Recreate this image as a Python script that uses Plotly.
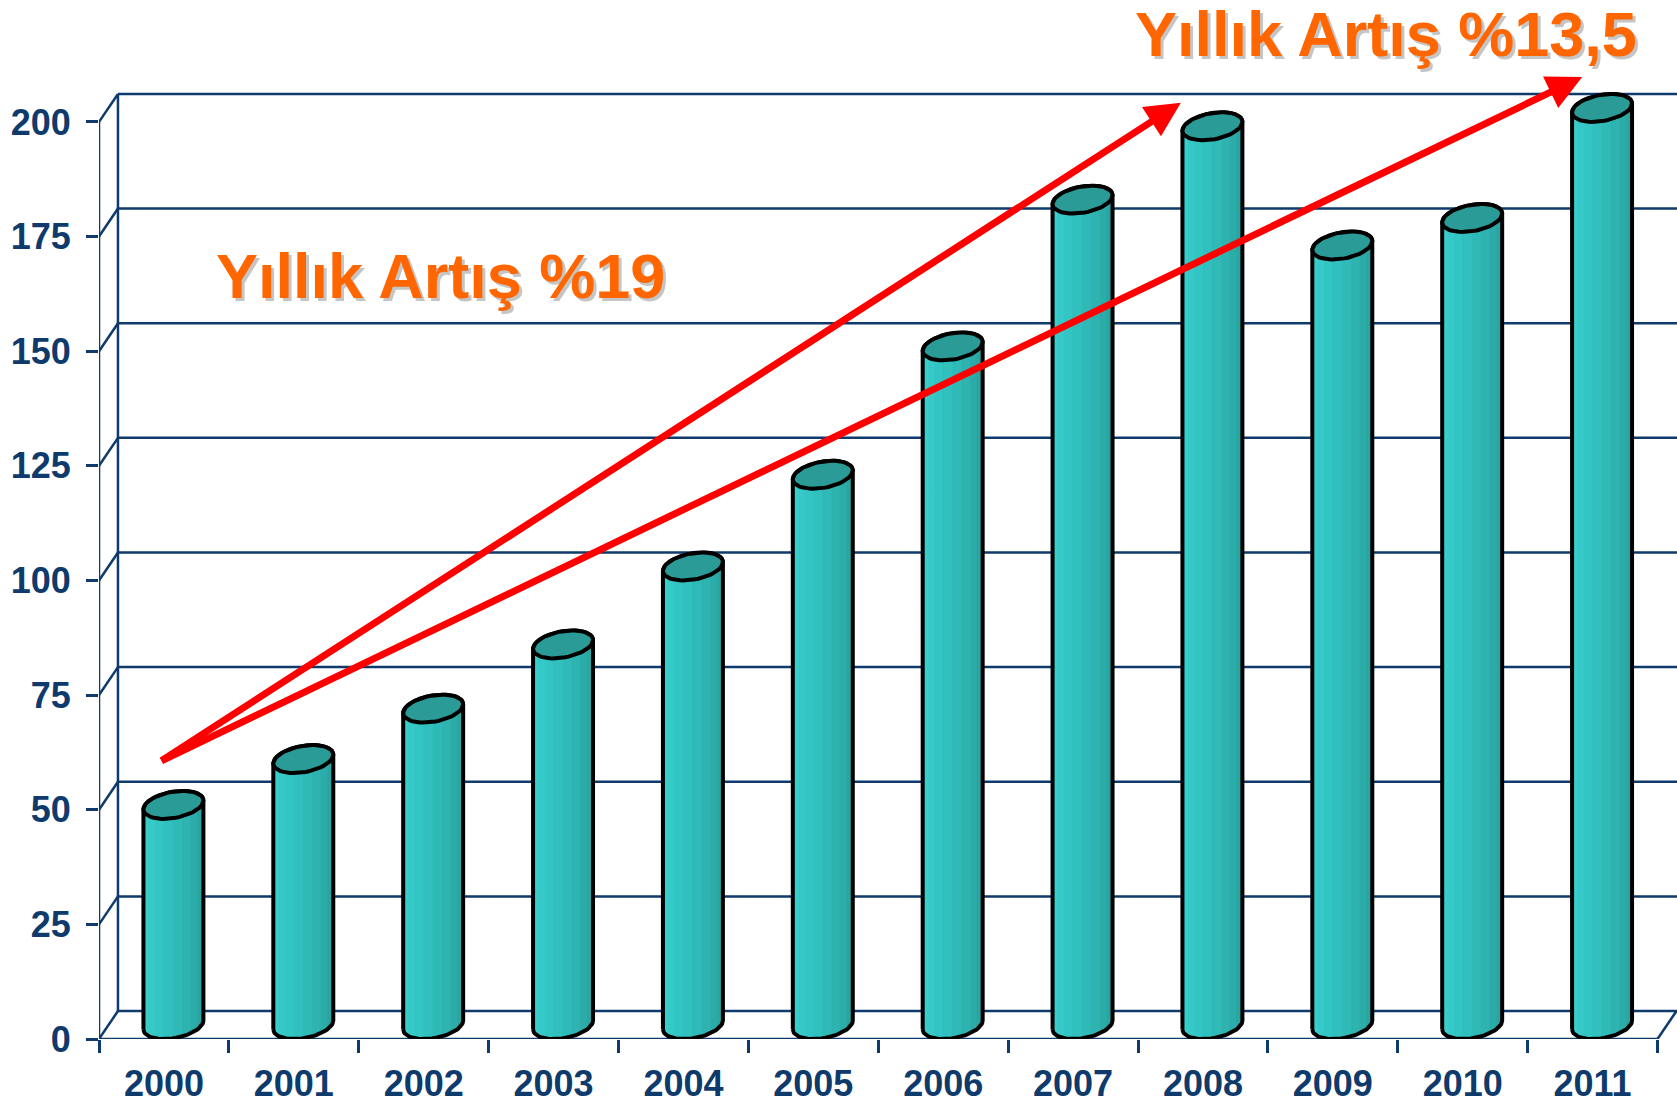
import numpy as np
import plotly.graph_objects as go

# ---------------- data ----------------
years = ["2000", "2001", "2002", "2003", "2004", "2005",
         "2006", "2007", "2008", "2009", "2010", "2011"]
values = [48, 58, 69, 83, 100, 120, 148, 180, 196, 170, 176, 200]
y_ticks = [0, 25, 50, 75, 100, 125, 150, 175, 200]
label_low = "Yıllık Artış %19"
label_high = "Yıllık Artış %13,5"

# ---------------- style / geometry ----------------
NAVY = "#0E3A6C"
ORANGE = "#FF6600"
FONT = "Liberation Sans, Arial, sans-serif"
DX, DY = 0.146, 6.1      # pseudo-3D depth offset (data units)
RX = 0.219               # cylinder half width (x units)
N = len(years)
X0, X1 = -0.5, N - 0.5
XMAX = X1 + DX + 0.004
YMAX = 213.5

fig = go.Figure()

# ---- cylinders ----
th0 = np.arctan2(DX / 2, RX)


def ell(cx, cy, th):
    return cx + RX * np.cos(th) + (DX / 2) * np.sin(th), cy + (DY / 2) * np.sin(th)


body_x, body_y = [], []
cap_x, cap_y = [], []
K = 10
strips = [([], []) for _ in range(K)]
for i, v in enumerate(values):
    cx = i + DX / 2
    cb = DY / 2
    ct = v + DY / 2
    tb = np.linspace(th0 + np.pi, th0 + 2 * np.pi, 40)
    tt = np.linspace(th0, th0 + np.pi, 40)
    bx, by = ell(cx, cb, tb)
    tx, ty = ell(cx, ct, tt)
    px = list(bx) + list(tx) + [bx[0]]
    py = list(by) + list(ty) + [by[0]]
    body_x += px + [None]
    body_y += py + [None]
    ta = np.linspace(0, 2 * np.pi, 60)
    ex, ey = ell(cx, ct, ta)
    cap_x += list(ex) + [None]
    cap_y += list(ey) + [None]
    edges = np.linspace(th0 + np.pi, th0 + 2 * np.pi, K + 1)
    for k in range(K):
        a, b = edges[k], edges[k + 1]
        ts = np.linspace(a, b, 6)
        sbx, sby = ell(cx, cb, ts)
        stx, sty = ell(cx, ct, ts[::-1])
        strips[k][0].extend(list(sbx) + list(stx) + [sbx[0], None])
        strips[k][1].extend(list(sby) + list(sty) + [sby[0], None])

fig.add_trace(go.Scatter(x=body_x, y=body_y, mode="lines", fill="toself",
                         fillcolor="#30BDBB", line=dict(width=0, color="#30BDBB"),
                         hoverinfo="skip"))


def mix(c1, c2, t):
    return "#%02X%02X%02X" % tuple(int(round(a + (b - a) * t)) for a, b in zip(c1, c2))


light = (0x3A, 0xD2, 0xD1)
mid = (0x31, 0xC0, 0xBE)
dark = (0x29, 0x9E, 0x9A)
for k in range(K):
    t = k / (K - 1)
    col = mix(light, mid, t / 0.45) if t < 0.45 else mix(mid, dark, (t - 0.45) / 0.55)
    fig.add_trace(go.Scatter(x=strips[k][0], y=strips[k][1], mode="lines", fill="toself",
                             fillcolor=col, line=dict(width=0.6, color=col),
                             hoverinfo="skip"))

fig.add_trace(go.Scatter(x=body_x, y=body_y, mode="lines",
                         line=dict(width=4, color="black"), hoverinfo="skip"))
fig.add_trace(go.Scatter(x=cap_x, y=cap_y, mode="lines", fill="toself",
                         fillcolor="#2A9B97", line=dict(width=4, color="black"),
                         hoverinfo="skip"))

# ---- 3D frame (shapes) ----
shapes = []


def seg(x0, y0, x1, y1):
    shapes.append(dict(type="line", xref="x", yref="y", x0=x0, y0=y0, x1=x1, y1=y1,
                       line=dict(color=NAVY, width=2.5), layer="below"))


seg(X0, 0, X0, y_ticks[-1])
seg(X0, 0, X1, 0)
seg(X0 + DX, DY, X0 + DX, y_ticks[-1] + DY)
for v in y_ticks:
    seg(X0, v, X0 + DX, v + DY)
    seg(X0 + DX, v + DY, XMAX, v + DY)
seg(X1, 0, X1 + DX, DY)

# ---- annotations: arrows and texts ----
ann = []
tail = (-0.03, 60.5)
for hx, hy in [(7.83, 204.2), (10.92, 209.8)]:
    ann.append(dict(x=hx, y=hy, ax=tail[0], ay=tail[1], xref="x", yref="y",
                    axref="x", ayref="y", text="", showarrow=True,
                    arrowhead=2, arrowsize=1.0, arrowwidth=7, arrowcolor="#FF0000",
                    standoff=0, startstandoff=0))


def title(text, x, y, xref, yref):
    for dx, dy, col in [(3, -3, "rgba(150,150,150,0.55)"), (0, 0, ORANGE)]:
        ann.append(dict(x=x, y=y, xref=xref, yref=yref, text=text, showarrow=False,
                        xshift=dx, yshift=dy, xanchor="center", yanchor="middle",
                        font=dict(family=FONT, size=63, color=col, weight="bold")))


title(label_low, 2.13, 166.4, "x", "y")
title(label_high, (1386 - 99) / 1578, (1039 - 34) / 979, "paper", "paper")

fig.update_layout(
    width=1677, height=1104,
    margin=dict(l=99, r=0, t=60, b=65),
    plot_bgcolor="white", paper_bgcolor="white",
    showlegend=False,
    shapes=shapes, annotations=ann,
    xaxis=dict(range=[X0, XMAX], tickvals=list(range(N)), ticktext=years,
               showgrid=False, zeroline=False, showline=False, ticks="",
               tickfont=dict(family=FONT, size=36, color=NAVY, weight="bold"),
               ticklabelstandoff=20,
               minor=dict(tickvals=[i - 0.5 for i in range(N + 1)], ticks="outside",
                          ticklen=13, tickwidth=2.5, tickcolor=NAVY, showgrid=False)),
    yaxis=dict(range=[0, YMAX], tickvals=y_ticks, ticktext=[str(v) for v in y_ticks],
               showgrid=False, zeroline=False, showline=False,
               ticks="outside", ticklen=12, tickwidth=2.5, tickcolor=NAVY,
               tickfont=dict(family=FONT, size=36, color=NAVY, weight="bold"),
               ticklabelstandoff=8),
)

fig.write_html("out.html", config={"displayModeBar": False},
               post_script="document.body.style.margin='0';document.body.style.overflow='hidden';")
